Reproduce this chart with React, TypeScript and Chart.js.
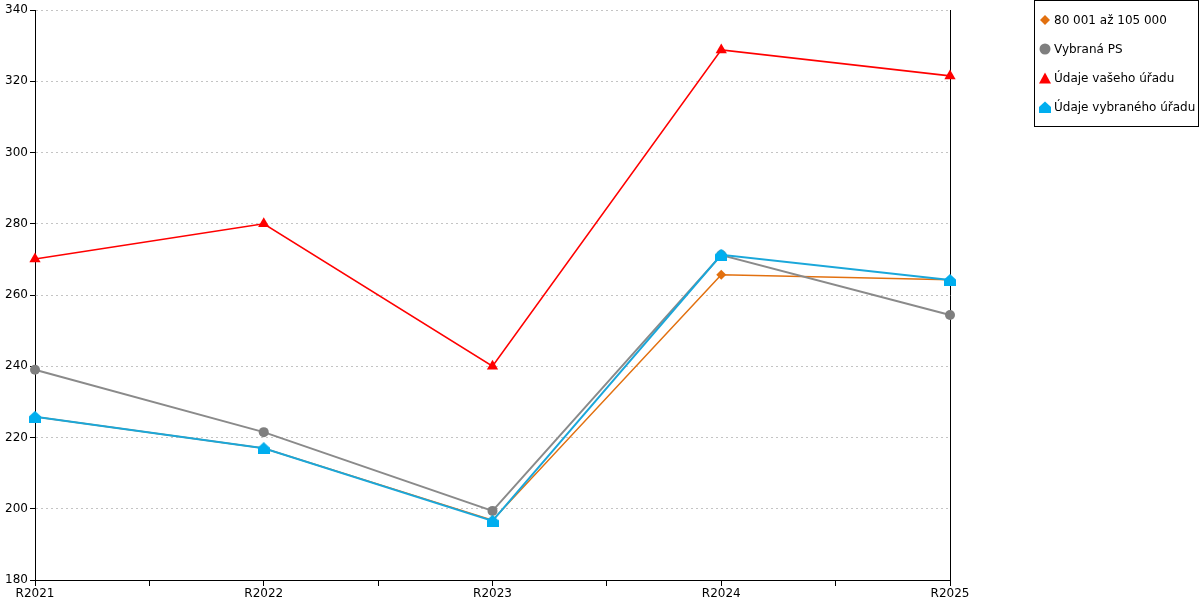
import React, { useEffect, useRef } from "react";
import { Chart, registerables } from "chart.js";

Chart.register(...registerables);

const categories = ["R2021", "R2022", "R2023", "R2024", "R2025"];
const seriesNames = ["80 001 až 105 000", "Vybraná PS", "Údaje vašeho úřadu", "Údaje vybraného úřadu"];
const orangeValues = [225.8, 217.0, 196.8, 265.7, 264.3];
const greyValues = [239.0, 221.5, 199.4, 271.2, 254.4];
const redValues = [270.1, 280.0, 240.0, 328.8, 321.5];
const blueValues = [225.8, 217.0, 196.6, 271.3, 264.2];
const yTicks = [180, 200, 220, 240, 260, 280, 300, 320, 340];

const ORANGE = "#E2700F";
const GREY = "#7F7F7F";
const RED = "#FF0000";
const BLUE = "#00AEEF";

function makeHouse(color: string): HTMLCanvasElement {
  const c = document.createElement("canvas");
  c.width = 12;
  c.height = 12;
  const g = c.getContext("2d")!;
  g.fillStyle = color;
  g.beginPath();
  g.moveTo(6, 0);
  g.lineTo(12, 5.5);
  g.lineTo(12, 12);
  g.lineTo(0, 12);
  g.lineTo(0, 5.5);
  g.closePath();
  g.fill();
  return c;
}

const toPoints = (vals: number[]) => vals.map((v, i) => ({ x: i, y: v }));

function Marker({ kind, color }: { kind: string; color: string }) {
  let shape: React.ReactNode = null;
  if (kind === "diamond") shape = <polygon points="6,1 11,6 6,11 1,6" fill={color} />;
  if (kind === "circle") shape = <circle cx="6" cy="6" r="5.5" fill={color} />;
  if (kind === "triangle") shape = <polygon points="6,0.5 12,11.5 0,11.5" fill={color} />;
  if (kind === "house") shape = <polygon points="6,0.5 12,6 12,12 0,12 0,6" fill={color} />;
  return (
    <svg width="12" height="12" style={{ display: "block", marginRight: 3 }}>
      {shape}
    </svg>
  );
}

export default function App() {
  const ref = useRef<HTMLCanvasElement | null>(null);

  useEffect(() => {
    if (!ref.current) return;
    Chart.defaults.font.family = "'DejaVu Sans', Verdana, sans-serif";
    Chart.defaults.font.size = 12;
    Chart.defaults.color = "#000";
    const house = makeHouse(BLUE);
    const chart = new Chart(ref.current, {
      type: "line",
      data: {
        datasets: [
          {
            label: seriesNames[0],
            data: toPoints(orangeValues),
            borderColor: ORANGE,
            backgroundColor: ORANGE,
            borderWidth: 1.5,
            pointStyle: "rectRot",
            pointRadius: 5,
            pointBorderWidth: 0,
            clip: false,
            order: 4,
          },
          {
            label: seriesNames[1],
            data: toPoints(greyValues),
            borderColor: "#8A8A8A",
            backgroundColor: GREY,
            borderWidth: 2,
            pointStyle: "circle",
            pointRadius: 5,
            pointBorderWidth: 0,
            clip: false,
            order: 3,
          },
          {
            label: seriesNames[2],
            data: toPoints(redValues),
            borderColor: RED,
            backgroundColor: RED,
            borderWidth: 1.6,
            pointStyle: "triangle",
            pointRadius: 6.5,
            pointBorderWidth: 0,
            clip: false,
            order: 2,
          },
          {
            label: seriesNames[3],
            data: toPoints(blueValues),
            borderColor: "#1AA7DA",
            backgroundColor: BLUE,
            borderWidth: 2,
            pointStyle: house as any,
            pointRadius: 6,
            pointBorderWidth: 0,
            clip: false,
            order: 1,
          },
        ],
      },
      options: {
        animation: false,
        responsive: false,
        maintainAspectRatio: false,
        devicePixelRatio: 1,
        layout: { padding: { top: 10, right: 250, left: 0, bottom: 0 } },
        plugins: { legend: { display: false }, tooltip: { enabled: false } },
        elements: { line: { tension: 0 } },
        scales: {
          x: {
            type: "linear",
            min: 0,
            max: categories.length - 1,
            afterFit: (s: any) => {
              s.height = 20;
            },
            afterBuildTicks: (s: any) => {
              const t: { value: number }[] = [];
              for (let v = 0; v <= categories.length - 1 + 1e-9; v += 0.5) t.push({ value: v });
              s.ticks = t;
            },
            ticks: {
              autoSkip: false,
              maxRotation: 0,
              padding: 1,
              color: "#000",
              callback: (v: any) => (Number.isInteger(v) ? categories[v] : ""),
            },
            grid: { drawOnChartArea: false, drawTicks: true, tickLength: 6, tickColor: "#000" },
            border: { color: "#000", width: 1 },
          },
          y: {
            type: "linear",
            position: "left",
            min: yTicks[0],
            max: yTicks[yTicks.length - 1],
            afterFit: (s: any) => {
              s.width = 35;
            },
            afterBuildTicks: (s: any) => {
              s.ticks = yTicks.map((v) => ({ value: v }));
            },
            ticks: { padding: 2, color: "#000" },
            grid: { color: "#C4C4C4", tickColor: "#000", tickLength: 5, drawTicks: true },
            border: { color: "#000", width: 1, dash: [2, 3] },
          },
          y2: {
            type: "linear",
            position: "right",
            min: yTicks[0],
            max: yTicks[yTicks.length - 1],
            afterFit: (s: any) => {
              s.width = 0;
            },
            ticks: { display: false },
            grid: { display: false, drawTicks: false },
            border: { color: "#000", width: 1 },
          },
        },
      },
    });
    return () => chart.destroy();
  }, []);

  const markers = [
    { kind: "diamond", color: ORANGE },
    { kind: "circle", color: GREY },
    { kind: "triangle", color: RED },
    { kind: "house", color: BLUE },
  ];

  return (
    <div style={{ position: "absolute", left: 0, top: 0, width: 1200, height: 600, background: "#fff" }}>
      <canvas ref={ref} width={1200} height={600} style={{ width: 1200, height: 600, display: "block" }} />
      <div
        style={{
          position: "absolute",
          left: 1034,
          top: 0,
          width: 165,
          height: 127,
          border: "1px solid #000",
          boxSizing: "border-box",
          fontFamily: "'DejaVu Sans', Verdana, sans-serif",
          fontSize: 12,
          color: "#000",
          paddingTop: 4,
          paddingLeft: 4,
        }}
      >
        {seriesNames.map((name, i) => (
          <div key={name} style={{ display: "flex", alignItems: "center", height: 29, lineHeight: "14px" }}>
            <Marker kind={markers[i].kind} color={markers[i].color} />
            <span style={{ whiteSpace: "nowrap" }}>{name}</span>
          </div>
        ))}
      </div>
    </div>
  );
}
